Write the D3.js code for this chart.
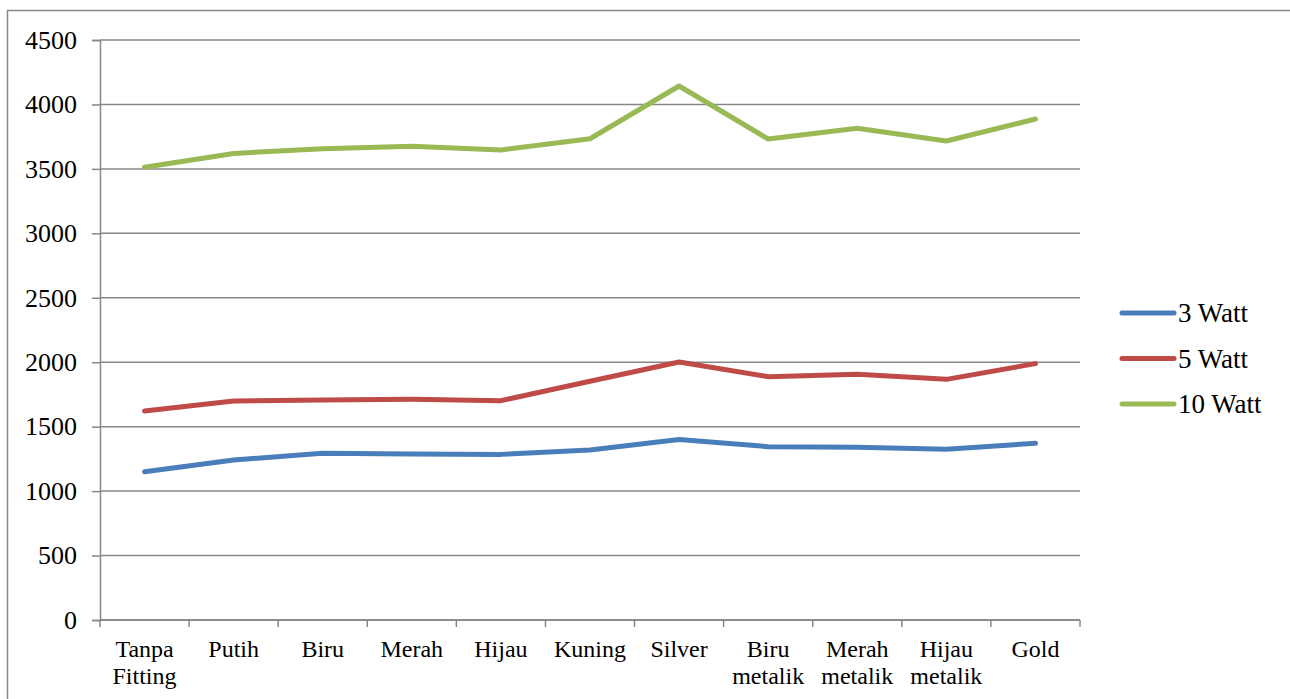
<!DOCTYPE html>
<html>
<head>
<meta charset="utf-8">
<script src="https://cdn.jsdelivr.net/npm/d3@7"></script>
<style>
	body { margin: 0; background: #fff; }
</style>
</head>
<body>
<div id="chart"></div>
<script>
// categories along the x axis
var categories = ['Tanpa Fitting', 'Putih', 'Biru', 'Merah', 'Hijau', 'Kuning',
	'Silver', 'Biru metalik', 'Merah metalik', 'Hijau metalik', 'Gold'];

// series values
var watt3 = [1151, 1241, 1293, 1288, 1285, 1319, 1400, 1345, 1340, 1324, 1371];
var watt5 = [1622, 1699, 1707, 1712, 1702, 1852, 2002, 1888, 1906, 1867, 1989];
var watt10 = [3512, 3620, 3657, 3675, 3647, 3734, 4143, 3732, 3815, 3716, 3887];

var seriesNames = ['3 Watt', '5 Watt', '10 Watt'];
var yTicks = [0, 500, 1000, 1500, 2000, 2500, 3000, 3500, 4000, 4500];

var colors = ['#4a7ebb', '#be4b48', '#98b954'];
var gridColor = '#878787';
var serif = '"Liberation Serif", "Times New Roman", Times, serif';

var width = 1290;
var height = 699;
var plot = { left: 100, right: 1080, top: 40, bottom: 620 };

var svg = d3.select('#chart')
	.append('svg')
	.attr('width', width)
	.attr('height', height)
	.attr('font-family', serif);

// outer frame of the chart object (cut at the window edge)
svg.append('rect')
	.attr('x', 7.5)
	.attr('y', 10.5)
	.attr('width', 1300)
	.attr('height', 700)
	.attr('fill', 'none')
	.attr('stroke', gridColor)
	.attr('stroke-width', 1.5);

var x = d3.scaleBand()
	.domain(categories)
	.range([plot.left, plot.right])
	.paddingInner(0)
	.paddingOuter(0);

var y = d3.scaleLinear()
	.domain([0, 4500])
	.range([plot.bottom, plot.top]);

// horizontal gridlines
svg.append('g')
	.selectAll('line')
	.data(yTicks)
	.enter()
	.append('line')
	.attr('x1', plot.left)
	.attr('x2', plot.right)
	.attr('y1', function (d) { return y(d); })
	.attr('y2', function (d) { return y(d); })
	.attr('stroke', gridColor)
	.attr('stroke-width', 1.5);

// y axis
var yAxis = svg.append('g')
	.attr('transform', 'translate(' + plot.left + ',0)')
	.call(d3.axisLeft(y).tickValues(yTicks).tickSize(8).tickPadding(15).tickFormat(d3.format('d')));
yAxis.attr('font-family', serif).attr('font-size', 26);
yAxis.select('.domain').attr('stroke', gridColor).attr('stroke-width', 1.5);
yAxis.selectAll('.tick line').attr('stroke', gridColor).attr('stroke-width', 1.5);
yAxis.selectAll('.tick text')
	.attr('fill', '#000')
	.style('font-family', serif)
	.style('font-size', '26px');

// x axis: base line and tick marks on category boundaries
var xAxis = svg.append('g');
xAxis.append('line')
	.attr('x1', plot.left)
	.attr('x2', plot.right)
	.attr('y1', y(0))
	.attr('y2', y(0))
	.attr('stroke', gridColor)
	.attr('stroke-width', 1.5);

var boundaries = categories.map(function (c) { return x(c); }).concat([x.range()[1]]);
xAxis.selectAll('line.tick')
	.data(boundaries)
	.enter()
	.append('line')
	.attr('class', 'tick')
	.attr('x1', function (d) { return d; })
	.attr('x2', function (d) { return d; })
	.attr('y1', y(0))
	.attr('y2', y(0) + 7)
	.attr('stroke', gridColor)
	.attr('stroke-width', 1.5);

var catLabels = xAxis.selectAll('text')
	.data(categories)
	.enter()
	.append('text')
	.attr('text-anchor', 'middle')
	.style('font-family', serif)
	.style('font-size', '24px')
	.attr('x', function (d) { return x(d) + x.bandwidth() / 2; })
	.attr('y', 657);

catLabels.selectAll('tspan')
	.data(function (d) { return d.split(' '); })
	.enter()
	.append('tspan')
	.attr('x', function () { return d3.select(this.parentNode).attr('x'); })
	.attr('dy', function (d, i) { return i === 0 ? 0 : 27; })
	.text(function (d) { return d; });

// lines
var allSeries = [watt3, watt5, watt10];

var line = d3.line()
	.x(function (d, i) { return x(categories[i]) + x.bandwidth() / 2; })
	.y(function (d) { return y(d); });

svg.append('g')
	.selectAll('path')
	.data(allSeries)
	.enter()
	.append('path')
	.attr('d', line)
	.attr('fill', 'none')
	.attr('stroke', function (d, i) { return colors[i]; })
	.attr('stroke-width', 5)
	.attr('stroke-linejoin', 'round')
	.attr('stroke-linecap', 'round');

// legend
var legend = svg.append('g')
	.selectAll('g')
	.data(seriesNames)
	.enter()
	.append('g')
	.attr('transform', function (d, i) { return 'translate(1122,' + (313 + i * 45.5) + ')'; });

legend.append('line')
	.attr('x1', 0)
	.attr('x2', 52)
	.attr('y1', 0)
	.attr('y2', 0)
	.attr('stroke', function (d, i) { return colors[i]; })
	.attr('stroke-width', 5)
	.attr('stroke-linecap', 'round');

legend.append('text')
	.attr('x', 56)
	.attr('y', 9)
	.attr('fill', '#000')
	.style('font-family', serif)
	.style('font-size', '27px')
	.text(function (d) { return d; });
</script>
</body>
</html>
